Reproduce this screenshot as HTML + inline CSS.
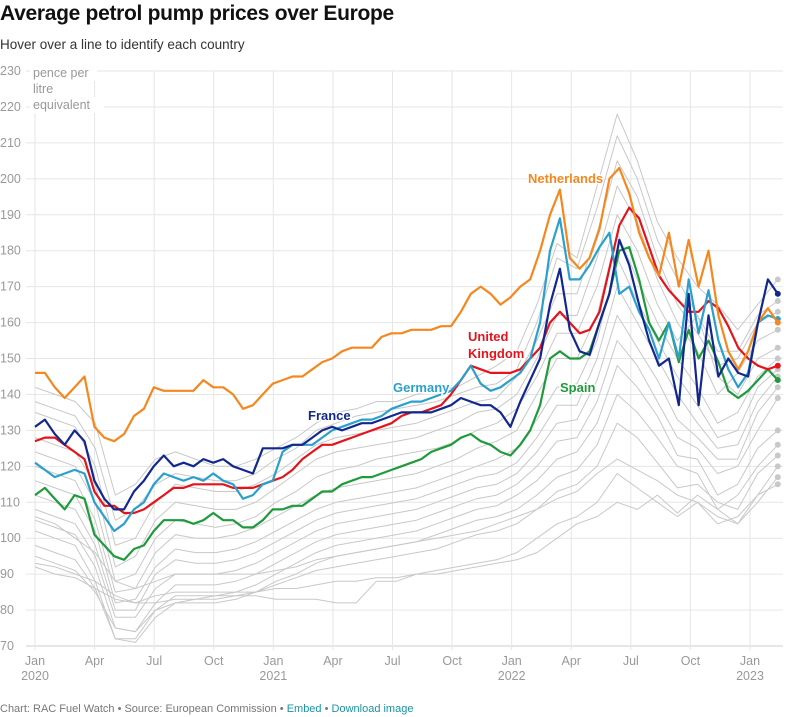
<!DOCTYPE html>
<html><head><meta charset="utf-8">
<style>
body{margin:0;background:#fff;font-family:"Liberation Sans",sans-serif;}
#wrap{position:relative;width:790px;height:717px;overflow:hidden;}
h1{position:absolute;left:0;top:2px;margin:0;font-size:21px;font-weight:bold;color:#111;letter-spacing:-0.3px}
.sub{position:absolute;left:0;top:37px;font-size:13.5px;color:#333}
.foot{position:absolute;left:0;top:703px;font-size:11px;color:#777}
.foot span{color:#1a94a6}
svg{position:absolute;left:0;top:0}
</style></head><body>
<div id="wrap">
<h1>Average petrol pump prices over Europe</h1>
<div class="sub">Hover over a line to identify each country</div>
<svg id="chart" width="790" height="717"></svg>
<div class="foot">Chart: RAC Fuel Watch • Source: European Commission • <span>Embed</span> • <span>Download image</span></div>
</div>
<script>
const yTicks=[70,80,90,100,110,120,130,140,150,160,170,180,190,200,210,220,230];
const xTickMonths=[0,3,6,9,12,15,18,21,24,27,30,33,36];
const xTickLabels=["Jan","Apr","Jul","Oct","Jan","Apr","Jul","Oct","Jan","Apr","Jul","Oct","Jan"];
const yearLabels=["2020","2021","2022","2023"];
const netherlands=[146,146,142,139,142,145,131,128,127,129,134,136,142,141,141,141,141,144,142,142,140,136,137,140,143,144,145,145,147,149,150,152,153,153,153,156,157,157,158,158,158,159,159,163,168,170,168,165,167,170,172,180,190,197,178,175,178,186,200,203,196,185,178,173,185,170,183,170,180,162,152,147,152,160,164,160];
const uk=[127,128,128,126,124,122,113,109,109,107,107,108,110,112,114,114,115,115,115,115,114,114,114,115,116,117,119,122,124,126,126,127,128,129,130,131,132,134,135,135,136,137,140,144,148,147,146,146,146,147,150,153,160,163,160,157,158,163,175,187,192,189,181,173,169,166,163,163,166,164,159,153,150,148,147,148];
const germany=[121,119,117,118,119,118,110,106,102,104,108,110,115,118,117,116,117,116,118,116,115,111,112,115,116,124,126,126,126,128,130,131,132,133,133,134,136,137,138,138,139,140,141,144,148,143,141,142,144,146,150,160,180,189,172,172,176,181,185,168,170,163,158,150,160,150,172,157,169,155,147,142,146,160,162,161];
const france=[131,133,129,126,130,127,116,111,108,108,113,116,120,123,120,121,120,122,121,122,120,119,118,125,125,125,126,126,128,130,131,130,131,132,132,133,134,135,135,135,135,136,137,139,138,137,137,135,131,138,144,150,165,175,158,152,151,160,168,183,176,165,155,148,150,137,168,137,162,145,150,146,145,160,172,168];
const spain=[112,114,111,108,112,111,101,98,95,94,97,98,102,105,105,105,104,105,107,105,105,103,103,105,108,108,109,109,111,113,113,115,116,117,117,118,119,120,121,122,124,125,126,128,129,127,126,124,123,126,130,137,150,152,150,150,152,160,168,180,181,172,160,155,160,149,158,150,155,149,141,139,141,144,147,144];
const gray1=[142,140,138,132,112,115,122,124,122,120,120,122,125,128,132,135,136,138,138,140,141,142,145,148,152,165,182,178,198,218,205,188,178,170,165,158,165,172];
const gray2=[138,136,134,125,105,108,115,118,117,116,116,118,122,125,130,132,134,135,136,137,138,140,142,143,147,160,178,175,192,212,200,183,172,162,152,152,162,166];
const gray3=[135,133,131,120,98,100,110,115,114,113,113,115,118,122,126,128,129,130,131,132,134,136,138,139,145,155,168,168,185,205,195,178,165,157,148,150,160,163];
const gray4=[128,126,124,115,92,95,105,110,109,108,108,110,114,118,122,124,125,126,127,128,130,132,135,136,140,150,162,162,178,198,188,172,160,152,140,146,155,158];
const gray5=[124,122,120,110,88,90,100,105,104,103,104,106,110,113,117,119,120,122,123,124,125,127,130,132,136,145,157,157,170,190,180,165,155,162,145,140,150,153];
const gray6=[120,118,116,105,85,86,96,101,100,100,101,103,106,109,112,114,115,116,117,118,120,122,125,127,130,140,150,150,162,185,172,160,150,142,132,135,145,150];
const gray7=[116,114,112,102,82,83,92,97,96,96,97,99,102,105,108,110,111,112,113,114,116,118,120,122,125,133,142,143,155,178,166,155,145,137,128,130,142,147];
const gray8=[112,110,108,98,80,80,90,94,93,93,94,96,99,102,105,107,108,109,110,111,113,115,117,118,121,128,137,137,150,170,160,150,140,132,125,126,138,145];
const gray9=[108,106,104,95,78,78,86,90,90,90,91,93,96,99,102,104,105,106,107,108,110,112,114,115,118,124,132,133,144,162,153,144,133,128,122,122,135,142];
const gray10=[105,103,101,92,75,74,82,87,87,87,88,90,93,96,99,101,102,103,104,105,107,109,111,112,115,120,127,128,138,155,148,138,128,125,118,120,130,139];
const gray11=[102,100,98,88,72,72,80,84,84,84,85,87,90,93,96,98,99,100,101,102,104,106,108,109,112,116,122,124,132,148,142,134,123,122,112,115,125,130];
const gray12=[98,96,94,86,72,71,78,82,82,82,83,85,88,90,93,95,96,97,98,99,101,103,105,106,108,112,117,119,126,140,135,128,120,118,108,112,120,126];
const gray13=[95,93,91,85,75,74,80,82,83,84,84,85,87,89,91,92,93,94,95,96,97,99,101,102,104,108,113,115,120,132,128,121,114,115,110,108,118,123];
const gray14=[93,92,90,88,84,82,84,85,85,85,85,85,86,86,87,88,88,89,89,90,91,92,93,94,96,100,104,106,110,118,114,110,106,110,106,104,112,120];
const gray15=[92,90,89,86,83,82,82,83,83,83,84,84,83,83,83,82,82,88,88,90,90,91,92,93,94,96,100,104,106,110,108,112,107,112,108,104,110,117];
const gray16=[106,104,100,96,88,86,88,90,90,90,90,90,91,92,94,95,96,97,98,99,100,101,102,104,106,108,111,113,118,122,119,116,112,110,104,106,112,115];
const grays=[gray1,gray2,gray3,gray4,gray5,gray6,gray7,gray8,gray9,gray10,gray11,gray12,gray13,gray14,gray15,gray16];

const NS="http://www.w3.org/2000/svg";
const svg=document.getElementById('chart');
const X=m=>35+m*(750-35)/36;
const Y=v=>646-(v-70)*(646-71)/160;
const END=37.4;
function mk(t,a){const e=document.createElementNS(NS,t);for(const k in a)e.setAttribute(k,a[k]);svg.appendChild(e);return e;}

yTicks.forEach(v=>{
  const l=mk('line',{x1:26,x2:783,y1:Y(v),y2:Y(v),stroke:v===70?'#ccc':'#e6e6e6','stroke-width':1});
  
  
  const t=mk('text',{x:0,y:Y(v)+4,'font-size':12.5,fill:'#999','font-family':'Liberation Sans'});
  t.textContent=v;
  
  
});
xTickMonths.forEach((m,i)=>{
  const l=mk('line',{x1:X(m),x2:X(m),y1:71,y2:650,stroke:'#e6e6e6','stroke-width':1});
  
  
  const t=mk('text',{x:X(m),y:665,'font-size':12.5,fill:'#999','text-anchor':'middle','font-family':'Liberation Sans'});
  t.textContent=xTickLabels[i];
  
  
});
yearLabels.forEach((y,i)=>{
  const t=mk('text',{x:X(i*12),y:680,'font-size':12.5,fill:'#999','text-anchor':'middle','font-family':'Liberation Sans'});
  t.textContent=y;
  
  
});
[["pence per",77],["litre",93],["equivalent",109]].forEach(([s,y])=>{
  const r=mk('rect',{x:30,y:y-12,width:s.length*7+4,height:16,fill:'#fff'});
  
  
  const t=mk('text',{x:33,y:y,'font-size':12.5,fill:'#999','font-family':'Liberation Sans'});
  t.textContent=s;
  
  
});
function path(arr,color,w,name){
  const step=END/(arr.length-1);
  const d=arr.map((v,i)=>(i?'L':'M')+X(i*step).toFixed(1)+','+Y(v).toFixed(1)).join(' ');
  const p=mk('path',{d:d,fill:'none',stroke:color,'stroke-width':w,'stroke-linejoin':'round'});
  
  
}
function dot(arr,color,name){
  const c=mk('circle',{cx:X(END),cy:Y(arr[arr.length-1]),r:3,fill:color});
  
  
}
grays.forEach(g=>path(g,'#c8c8c8',1,'country-line-gray'));
grays.forEach(g=>dot(g,'#c8c8c8','end-dot-gray'));
const colored=[[spain,'#1f9a3c','spain-line'],[uk,'#e3141b','uk-line'],[germany,'#2ba0cc','germany-line'],[netherlands,'#f5871f','netherlands-line'],[france,'#12288f','france-line']];
colored.forEach(([a,c,n])=>{
  path(a,c,2.2,n);
  dot(a,c,n+'-end-dot');
});
function label(txt,x,y,c,name){
  const t=mk('text',{x:x,y:y,'font-size':13,'font-weight':'bold',fill:c,'font-family':'Liberation Sans',stroke:'#fff','stroke-width':3,'paint-order':'stroke'});
  t.textContent=txt;
  
  
}
label('Netherlands',528,183,'#f5871f','netherlands-label');
label('United',468,341,'#e3141b','uk-label-line1');
label('Kingdom',468,358,'#e3141b','uk-label-line2');
label('Germany',393,392,'#2ba0cc','germany-label');
label('France',308,420,'#12288f','france-label');
label('Spain',560,392,'#1f9a3c','spain-label');
</script>
</body></html>
